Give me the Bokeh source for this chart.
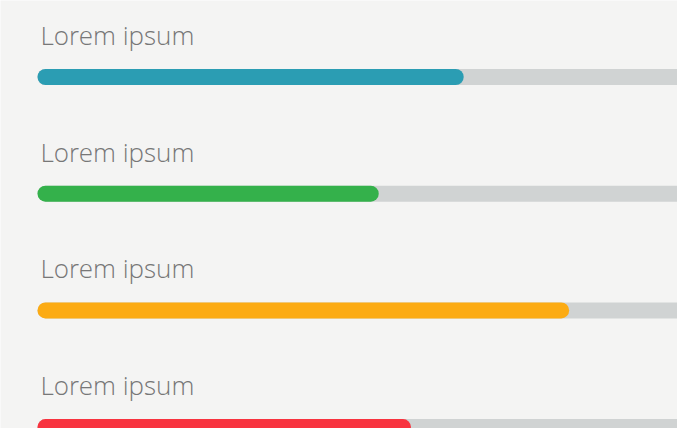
from bokeh.plotting import figure
from bokeh.models import Range1d, ColumnDataSource
from bokeh.core.properties import value
from bokeh.embed import file_html
from bokeh.resources import INLINE

labels = ["Lorem ipsum", "Lorem ipsum", "Lorem ipsum", "Lorem ipsum"]
values = [70, 55.5, 88, 61]
colors = ["#2b9db3", "#34b14b", "#fcab13", "#f8333f"]
rows = [0, 1, 2, 3]
track_end = [120, 120, 120, 120]

W, H = 677, 428
p = figure(width=W, height=H, output_backend="svg", toolbar_location=None,
           x_range=Range1d(-7.679, 107.85), y_range=Range1d(3.012, -0.6555),
           min_border=0, background_fill_color="#f4f4f3", border_fill_color="#f4f4f3",
           outline_line_color=None)
p.axis.visible = False
p.grid.visible = False

src = ColumnDataSource(dict(y=rows, v=values, c=colors, zero=[0]*4, te=track_end, lab=labels))

p.segment(x0="zero", x1="te", y0="y", y1="y", source=src, line_color="#d0d3d3",
          line_width=16, line_cap="round")
p.segment(x0="zero", x1="v", y0="y", y1="y", source=src, line_color="c",
          line_width=16, line_cap="round")
p.text(x="zero", y="y", text="lab", source=src, x_offset=-5, y_offset=-42,
       text_font=value("Open Sans Light"), text_font_size="26px", text_color="#777777",
       text_baseline="alphabetic", text_align="left")

open("out.html", "w").write(file_html(p, INLINE))
